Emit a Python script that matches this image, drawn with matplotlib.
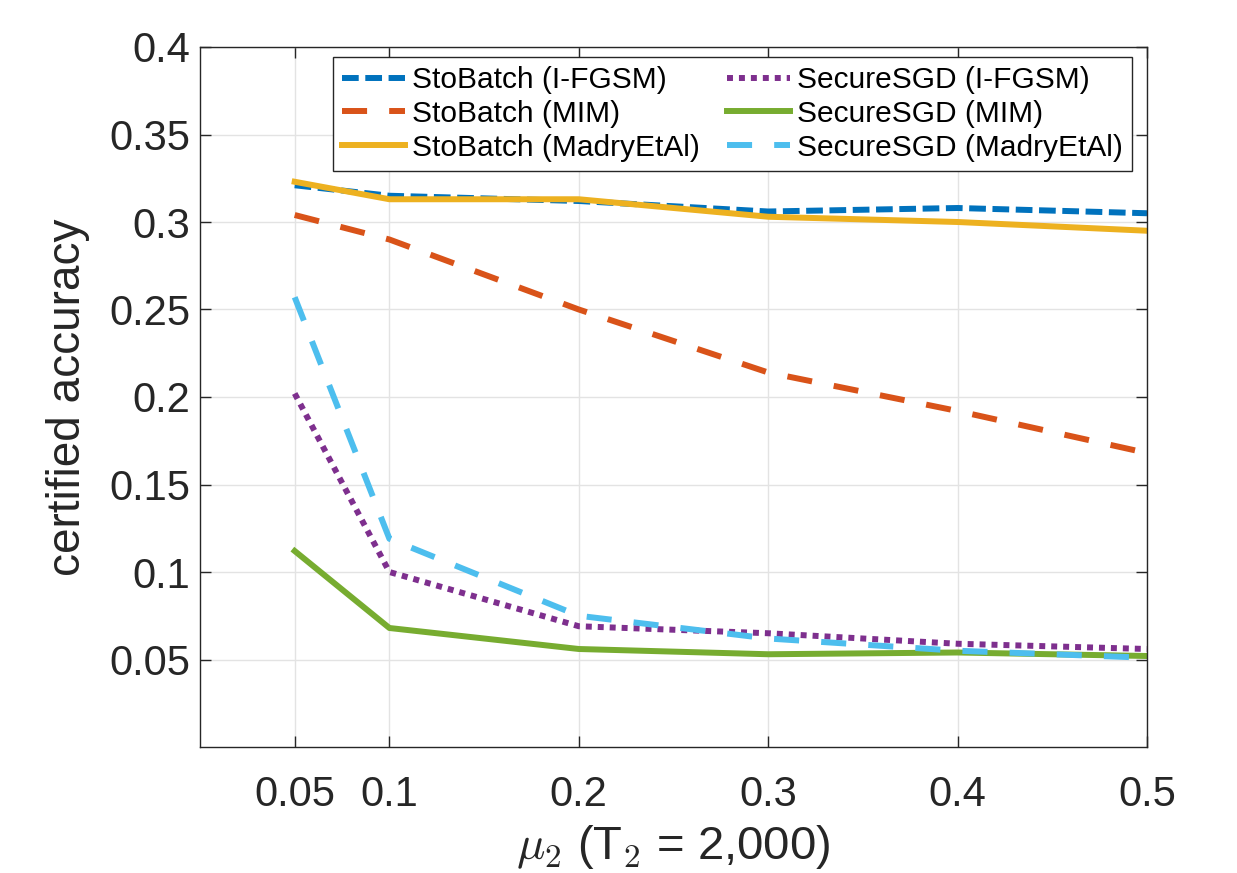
import numpy as np
import matplotlib
matplotlib.use("Agg")
import matplotlib.pyplot as plt

plt.rcParams['font.family'] = ['Liberation Sans', 'DejaVu Sans']
plt.rcParams['mathtext.fontset'] = 'cm'

# data
mu = [0.05, 0.1, 0.2, 0.3, 0.4, 0.5]
sto_ifgsm = [0.321, 0.315, 0.312, 0.306, 0.308, 0.305]
sto_mim = [0.304, 0.290, 0.250, 0.214, 0.192, 0.168]
sto_madry = [0.323, 0.313, 0.313, 0.303, 0.300, 0.295]
sec_ifgsm = [0.202, 0.100, 0.069, 0.065, 0.059, 0.056]
sec_mim = [0.112, 0.068, 0.056, 0.053, 0.054, 0.052]
sec_madry = [0.257, 0.119, 0.075, 0.062, 0.055, 0.051]

xticks = [0.05, 0.1, 0.2, 0.3, 0.4, 0.5]
yticks = [0.05, 0.1, 0.15, 0.2, 0.25, 0.3, 0.35, 0.4]

fig = plt.figure(figsize=(12.37, 8.73), dpi=100)
ax = fig.add_axes([200 / 1237, 1 - 747 / 873, 947 / 1237, 700 / 873])

lw = 4.3
ax.plot(mu, sto_ifgsm, color='#0072BD', lw=lw, dashes=(2.8, 1.1), label='StoBatch (I-FGSM)')
ax.plot(mu, sto_mim, color='#D95319', lw=lw, dashes=(4.2, 3.7), label='StoBatch (MIM)')
ax.plot(mu, sto_madry, color='#EDB120', lw=lw, label='StoBatch (MadryEtAl)')
ax.plot(mu, sec_ifgsm, color='#7E2F8E', lw=lw, dashes=(1, 1), label='SecureSGD (I-FGSM)')
ax.plot(mu, sec_mim, color='#77AC30', lw=lw, label='SecureSGD (MIM)')
ax.plot(mu, sec_madry, color='#4DBEEE', lw=lw, dashes=(4.2, 3.7), label='SecureSGD (MadryEtAl)')

ax.set_xlim(0, 0.5)
ax.set_ylim(0, 0.4)
ax.set_xticks(xticks)
ax.set_xticklabels(['0.05', '0.1', '0.2', '0.3', '0.4', '0.5'])
ax.set_yticks(yticks)
ax.set_yticklabels(['0.05', '0.1', '0.15', '0.2', '0.25', '0.3', '0.35', '0.4'])
ax.tick_params(labelsize=30, direction='in', length=8, width=1, color='#262626',
               top=True, right=True, labelcolor='#262626')
ax.tick_params(axis='y', pad=7)
ax.tick_params(axis='x', pad=20)
ax.grid(True, color='#e3e3e3', lw=1)
for s in ax.spines.values():
    s.set_color('#262626')
    s.set_linewidth(1)

ax.set_ylabel('certified accuracy', fontsize=33, color='#262626', labelpad=14)
ax.set_xlabel(r'$\mu_2$ (T$_2$ = 2,000)', fontsize=34, color='#262626', labelpad=6)

leg = ax.legend(ncol=2, fontsize=21.5, loc='upper left', bbox_to_anchor=(133 / 947, 1 - 10 / 700),
                frameon=True, fancybox=False, edgecolor='#262626', framealpha=1,
                handlelength=2.1, handletextpad=0.25, columnspacing=0.9,
                labelspacing=0.2, borderpad=0.3, borderaxespad=0)
leg.get_frame().set_linewidth(1)

fig.savefig('out.png', dpi=100)
